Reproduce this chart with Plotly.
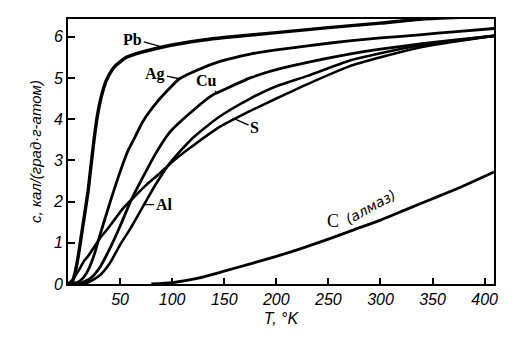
import numpy as np
import plotly.graph_objects as go

# Heat capacity c (cal / (deg * g-atom)) versus temperature T (K)
pb_T = [0, 4, 7, 10, 13, 16, 19, 22, 25, 28, 32, 37, 45, 56, 70, 91, 107, 130, 150, 200, 250, 300, 340, 409]
pb_c = [0, 0.05, 0.3, 0.7, 1.2, 1.7, 2.2, 2.85, 3.5, 4.05, 4.55, 4.95, 5.28, 5.5, 5.62, 5.75, 5.83, 5.92, 5.98, 6.1, 6.22, 6.33, 6.43, 6.5]

ag_T = [0, 10, 15, 20, 25, 30, 40, 50, 57, 65, 72, 85, 98, 107, 125, 146, 175, 200, 230, 270, 300, 340, 370, 409]
ag_c = [0, 0.05, 0.16, 0.37, 0.7, 1.13, 1.95, 2.72, 3.2, 3.6, 3.95, 4.4, 4.76, 4.98, 5.2, 5.4, 5.58, 5.68, 5.78, 5.9, 5.97, 6.05, 6.12, 6.2]

cu_T = [0, 10, 15, 20, 25, 30, 40, 50, 60, 70, 85, 98, 115, 139, 146, 175, 200, 230, 270, 300, 340, 370, 409]
cu_c = [0, 0.0, 0.05, 0.11, 0.22, 0.38, 0.85, 1.4, 2.0, 2.5, 3.2, 3.69, 4.1, 4.59, 4.67, 5.0, 5.2, 5.38, 5.58, 5.7, 5.83, 5.92, 6.02]

al_T = [0, 15, 20, 30, 40, 50, 60, 74, 85, 98, 120, 146, 175, 200, 230, 270, 300, 340, 370, 409]
al_c = [0, 0.01, 0.05, 0.2, 0.5, 0.95, 1.35, 1.97, 2.45, 2.94, 3.55, 4.07, 4.5, 4.8, 5.05, 5.42, 5.6, 5.8, 5.9, 6.02]

s_T = [0, 5, 10, 16, 20, 31, 40, 53, 65, 75, 88, 98, 117, 146, 158, 175, 200, 230, 270, 300, 340, 370, 409]
s_c = [0, 0.12, 0.32, 0.58, 0.7, 1.12, 1.4, 1.84, 2.15, 2.4, 2.68, 2.92, 3.3, 3.82, 3.98, 4.2, 4.5, 4.85, 5.28, 5.5, 5.75, 5.88, 6.02]

dia_T = [80, 100, 125, 150, 175, 200, 225, 250, 275, 300, 325, 350, 375, 409]
dia_c = [0, 0.03, 0.14, 0.31, 0.49, 0.67, 0.87, 1.09, 1.32, 1.55, 1.81, 2.07, 2.33, 2.72]

x_ticks = [50, 100, 150, 200, 250, 300, 350, 400]
y_ticks = [0, 1, 2, 3, 4, 5, 6]

series = [
    (pb_T, pb_c, 3.4),
    (ag_T, ag_c, 2.8),
    (cu_T, cu_c, 2.8),
    (al_T, al_c, 2.6),
    (s_T, s_c, 2.6),
    (dia_T, dia_c, 2.8),
]

fig = go.Figure()
for T, c, w in series:
    fig.add_trace(go.Scatter(
        x=T, y=c, mode="lines", line=dict(color="black", width=w, shape="spline", smoothing=0.6),
        hoverinfo="skip", showlegend=False,
    ))

label_font = dict(family="Liberation Serif", size=16, color="black", weight="bold")


def leader(text, T_arr, c_arr, t, ax, ay):
    fig.add_annotation(
        x=t, y=float(np.interp(t, T_arr, c_arr)), text=text, showarrow=True,
        arrowhead=0, arrowwidth=1.3, arrowcolor="black", ax=ax, ay=ay,
        font=label_font, standoff=0,
    )


leader("Pb", pb_T, pb_c, 91, -30, -8)
leader("Ag", ag_T, ag_c, 107, -24, -5)
leader("Cu", cu_T, cu_c, 143, -10, -12)
leader("S", s_T, s_c, 160, 20, 9)
leader("Al", al_T, al_c, 73, 20, 0)

# label of the diamond curve
t_c = 254
c_at = float(np.interp(t_c, dia_T, dia_c))
fig.add_annotation(x=t_c, y=c_at, text="C", showarrow=False, xshift=0, yshift=17,
                   font=dict(family="Liberation Serif", size=18, color="black"))
t_a = 298
a_at = float(np.interp(t_a, dia_T, dia_c))
fig.add_annotation(x=t_a, y=a_at, text="(алмаз)", showarrow=False, textangle=-29,
                   xshift=-8, yshift=14,
                   font=dict(family="DejaVu Sans", size=14, color="black", style="italic"))

tick_font = dict(family="Liberation Sans", size=16, color="black", style="italic")

fig.update_xaxes(
    range=[0, 409], tickvals=x_ticks, ticks="inside", ticklen=6, tickwidth=1.5,
    tickcolor="black", showline=True, linecolor="black", linewidth=2, mirror=True,
    showgrid=False, zeroline=False, tickfont=tick_font,
    title=dict(text="T, °K", font=dict(family="Liberation Sans", size=16, color="black", style="italic"), standoff=6),
)
fig.update_yaxes(
    range=[0, 6.43], tickvals=y_ticks, ticks="inside", ticklen=7, tickwidth=1.5,
    tickcolor="black", showline=True, linecolor="black", linewidth=2, mirror=True,
    showgrid=False, zeroline=False, tickfont=tick_font,
    title=dict(text="c, кал/(град·г-атом)", font=dict(family="Liberation Sans", size=15, color="black", style="italic"), standoff=8),
)

fig.update_layout(
    width=523, height=340, margin=dict(l=68, r=29, t=19, b=56),
    paper_bgcolor="white", plot_bgcolor="white",
)

fig.write_html("out.html")
